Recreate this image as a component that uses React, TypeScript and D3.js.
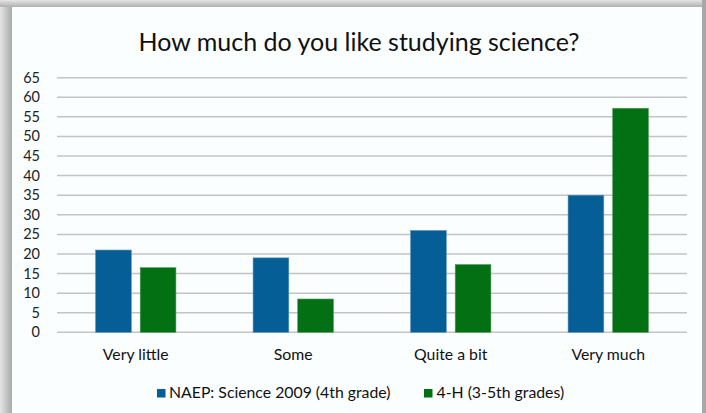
import React from "react";
import * as d3 from "d3";

const categories = ["Very little", "Some", "Quite a bit", "Very much"];
const seriesNames = ["NAEP: Science 2009 (4th grade)", "4-H (3-5th grades)"];
const naepValues = [21, 19, 26, 35];
const fourHValues = [16.5, 8.5, 17.3, 57.2];
const yTicks = [0, 5, 10, 15, 20, 25, 30, 35, 40, 45, 50, 55, 60, 65];
const colors = ["#065e96", "#037014"];

const W = 706;
const H = 413;
const FONT = "Lato, 'Open Sans', sans-serif";

export default function App() {
  const x0 = d3.scaleBand<string>().domain(categories).range([57, 687]).paddingInner(0.49).paddingOuter(0.245);
  const x1 = d3.scaleBand<number>().domain([0, 1]).range([0, x0.bandwidth()]).paddingInner(0.2);
  const y = d3.scaleLinear().domain([0, 65]).range([332.3, 77.7]);
  const series = [naepValues, fourHValues];

  return (
    <svg width={W} height={H} style={{ position: "absolute", left: 0, top: 0 }} xmlns="http://www.w3.org/2000/svg">
      <defs>
        <linearGradient id="bgL" x1="0" x2="1" y1="0" y2="0">
          <stop offset="0" stopColor="#e6e6e6" />
          <stop offset="1" stopColor="#a9a9a9" />
        </linearGradient>
        <linearGradient id="bgT" x1="0" x2="0" y1="0" y2="1">
          <stop offset="0" stopColor="#e4e4e4" />
          <stop offset="1" stopColor="#b0b0b0" />
        </linearGradient>
      </defs>
      <rect x={0} y={0} width={W} height={H} fill="#d8d8d8" />
      <rect x={0} y={0} width={12} height={H} fill="url(#bgL)" />
      <rect x={0} y={0} width={W} height={7} fill="url(#bgT)" />
      <rect x={702} y={0} width={4} height={H} fill="#a8a8a8" />
      <rect x={12} y={7} width={690} height={H} fill="#fbfefe" />

      <text x={359} y={50.7} textAnchor="middle" fontFamily={FONT} fontSize={25} fill="#111">
        How much do you like studying science?
      </text>

      {yTicks.map((t) => (
        <g key={t}>
          <line x1={57} x2={687} y1={y(t)} y2={y(t)} stroke="#c4c4c4" strokeWidth={1.5} />
          <text x={40} y={y(t) + 5} textAnchor="end" fontFamily={FONT} fontSize={14.5} fill="#222">
            {t}
          </text>
        </g>
      ))}

      {categories.map((c, ci) => (
        <g key={c} transform={`translate(${x0(c)},0)`}>
          {series.map((vals, si) => (
            <rect
              key={si}
              x={x1(si)}
              y={y(vals[ci])}
              width={x1.bandwidth()}
              height={y(0) - y(vals[ci])}
              fill={colors[si]}
              stroke={si === 0 ? "#5b8fb8" : "#4f9a5a"}
              strokeWidth={0.6}
            />
          ))}
          <text x={x0.bandwidth() / 2} y={359.5} textAnchor="middle" fontFamily={FONT} fontSize={15.8} fill="#111">
            {c}
          </text>
        </g>
      ))}

      <g>
        <rect x={157} y={389} width={8.5} height={8.5} fill={colors[0]} />
        <text x={169} y={397.8} fontFamily={FONT} fontSize={15.8} fill="#111">{seriesNames[0]}</text>
        <rect x={424} y={389} width={8.5} height={8.5} fill={colors[1]} />
        <text x={436.5} y={397.8} fontFamily={FONT} fontSize={15.8} fill="#111">{seriesNames[1]}</text>
      </g>
    </svg>
  );
}
